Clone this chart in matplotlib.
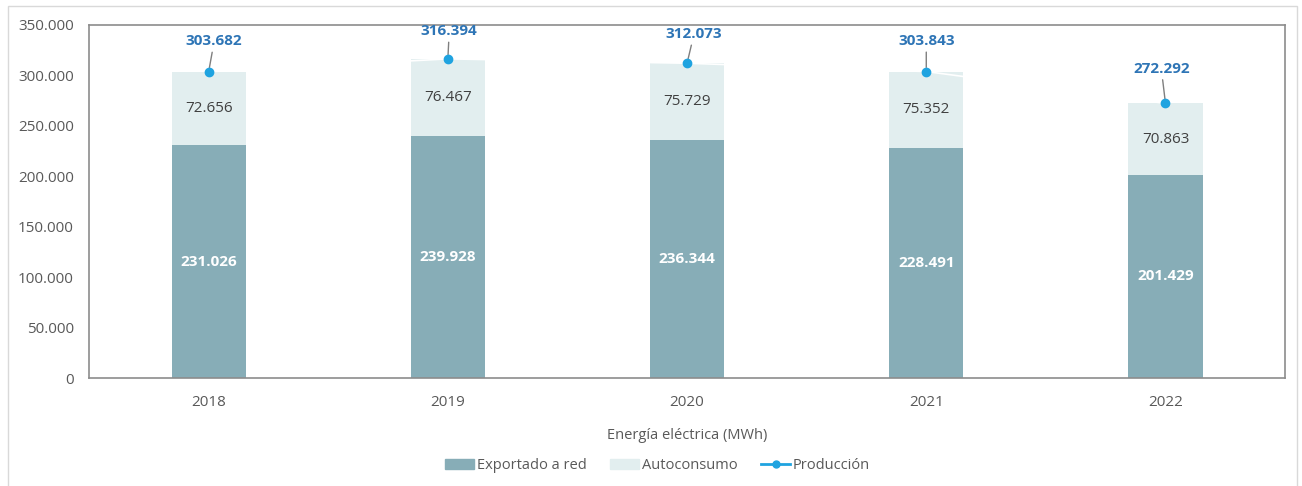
"""Energía eléctrica: exportado a red vs autoconsumo, 2018-2022."""

import numpy as np
import matplotlib.pyplot as plt
from matplotlib.patches import Rectangle
from matplotlib.lines import Line2D
from matplotlib.ticker import FuncFormatter

plt.rcParams['font.family'] = ['Open Sans', 'DejaVu Sans']

years = ["2018", "2019", "2020", "2021", "2022"]
exportado = [231026, 239928, 236344, 228491, 201429]
autoconsumo = [72656, 76467, 75729, 75352, 70863]
produccion = [303682, 316394, 312073, 303843, 272292]

COL_EXP = "#87ADB7"
COL_AUTO = "#E2EEEF"
COL_PROD = "#1FA3E0"
COL_LABEL = "#2E75B6"
COL_TEXT = "#595959"


def fmt_es(v, pos=None):
    """Thousands with a dot separator."""
    return f"{int(round(v)):,}".replace(",", ".")


fig = plt.figure(figsize=(13.02, 4.86), dpi=100)
ax = fig.add_axes([0.0684, 0.222, 0.9186, 0.7266])

x = np.arange(len(years))
width = 0.31
ax.bar(x, exportado, width, color=COL_EXP, label="Exportado a red", zorder=2)
ax.bar(x, autoconsumo, width, bottom=exportado, color=COL_AUTO,
       label="Autoconsumo", zorder=2)

for i in range(len(years)):
    ax.text(x[i], exportado[i] / 2, fmt_es(exportado[i]), ha="center",
            va="center", color="white", fontsize=11, fontweight="bold")
    ax.text(x[i], exportado[i] + autoconsumo[i] / 2, fmt_es(autoconsumo[i]),
            ha="center", va="center", color="#404040", fontsize=11)

# production line is white in the source, only the markers show
ax.plot(x, produccion, color="white", lw=1.2, zorder=3)
ax.plot(x, produccion, linestyle="none", marker="o", markersize=6,
        color=COL_PROD, zorder=4)

offsets = [(4, 17), (1, 15), (5, 16), (0, 17), (-3, 20)]
for i in range(len(years)):
    ax.annotate(fmt_es(produccion[i]), xy=(x[i], produccion[i]),
                xytext=offsets[i], textcoords="offset points",
                ha="center", va="bottom", color=COL_LABEL,
                fontsize=11, fontweight="bold",
                arrowprops=dict(arrowstyle="-", color="#7F7F7F", lw=1,
                                shrinkA=1, shrinkB=3))

ax.set_xlim(-0.5, len(years) - 0.5)
ax.set_ylim(0, 350000)
ax.set_yticks(np.arange(0, 350001, 50000))
ax.yaxis.set_major_formatter(FuncFormatter(fmt_es))
ax.set_xticks(x)
ax.set_xticklabels(years)
ax.tick_params(axis="both", length=0, labelsize=11, labelcolor=COL_TEXT)
ax.tick_params(axis="y", pad=11)
ax.tick_params(axis="x", pad=12)
for s in ax.spines.values():
    s.set_color("#8C8C8C")
    s.set_linewidth(1.2)

ax.set_xlabel("Energía eléctrica (MWh)", fontsize=10.5, color=COL_TEXT,
              labelpad=13)

handles = [
    Rectangle((0, 0), 1, 1, color=COL_EXP),
    Rectangle((0, 0), 1, 1, color=COL_AUTO),
    Line2D([0], [0], color=COL_PROD, lw=2, marker="o", markersize=5),
]
fig.legend(handles, ["Exportado a red", "Autoconsumo", "Producción"],
           loc="center", bbox_to_anchor=(0.505, 0.042), ncol=3,
           frameon=False, fontsize=10.5, labelcolor=COL_TEXT,
           handlelength=2.0, handletextpad=0.2, columnspacing=1.6)

# thin frame round the whole chart
fig.patches.append(Rectangle((0.006, -0.01), 0.99, 0.998,
                             transform=fig.transFigure, fill=False,
                             edgecolor="#D9D9D9", lw=1))

fig.savefig("out.png", dpi=100)
